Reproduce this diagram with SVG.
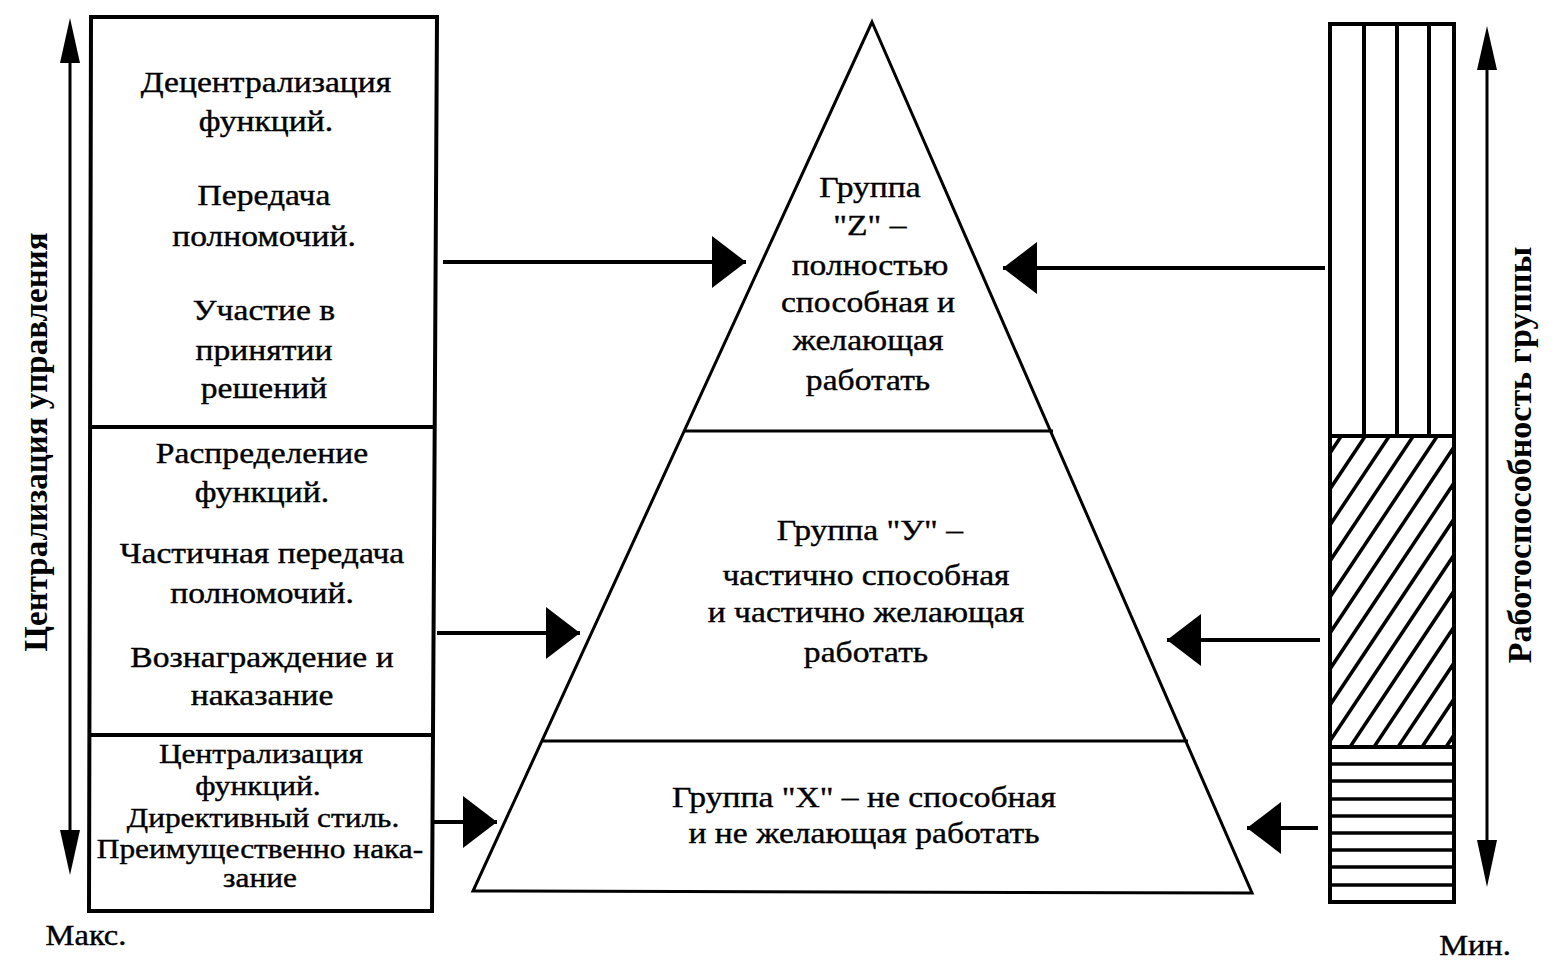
<svg xmlns="http://www.w3.org/2000/svg" width="1568" height="964" viewBox="0 0 1568 964">
<style>
.t{font-family:"Liberation Serif","Times New Roman",serif;font-size:30px;fill:#000;stroke:#000;stroke-width:0.4;text-anchor:middle;transform:scaleX(1.12);transform-box:fill-box;transform-origin:center}
.s{font-size:28px}
.b{font-weight:bold;font-family:"Liberation Serif","Times New Roman",serif;font-size:33px;fill:#000;text-anchor:middle}
.ln{stroke:#000;stroke-width:3;fill:none}
.th{stroke:#000;stroke-width:4;fill:none}
.h{stroke:#000;stroke-width:3.5}
</style>
<defs>
<marker id="ah" markerUnits="userSpaceOnUse" markerWidth="36" markerHeight="52" refX="34" refY="26" orient="auto"><path d="M0,0 L34,26 L0,52 Z" fill="#000"/></marker>
<clipPath id="mid"><rect x="1328" y="436" width="124" height="311"/></clipPath>
</defs>
<rect width="1568" height="964" fill="#fff"/>

<g id="left-axis">
<line x1="70" y1="30" x2="70" y2="865" class="ln"/>
<path d="M60,63 L70,18 L80,63 Z" fill="#000"/>
<path d="M60,830 L70,875 L80,830 Z" fill="#000"/>
<text class="b" transform="translate(47,442) rotate(-90)">Централизация управления</text>
<text class="t" x="86" y="945" style="font-size:29px">Макс.</text>
</g>

<g id="left-box">
<path d="M91,17 L437,17 L432,911 L89,911 Z" class="th"/>
<line x1="91" y1="427" x2="434" y2="427" class="th"/>
<line x1="90" y1="735" x2="433" y2="735" class="th"/>
</g>
<g id="box-top">
<text class="t" x="266" y="92">Децентрализация</text>
<text class="t" x="266" y="131">функций.</text>
<text class="t" x="264" y="205">Передача</text>
<text class="t" x="264" y="246">полномочий.</text>
<text class="t" x="264" y="320">Участие в</text>
<text class="t" x="264" y="360">принятии</text>
<text class="t" x="264" y="398">решений</text>
</g>
<g id="box-mid">
<text class="t" x="262" y="463">Распределение</text>
<text class="t" x="262" y="502">функций.</text>
<text class="t" x="262" y="563">Частичная передача</text>
<text class="t" x="262" y="603">полномочий.</text>
<text class="t" x="262" y="667">Вознаграждение и</text>
<text class="t" x="262" y="705">наказание</text>
</g>
<g id="box-bot">
<text class="t s" x="261" y="763">Централизация</text>
<text class="t s" x="258" y="795">функций.</text>
<text class="t s" x="263" y="827">Директивный стиль.</text>
<text class="t s" x="260" y="858">Преимущественно нака-</text>
<text class="t s" x="260" y="887">зание</text>
</g>

<g id="pyramid">
<path d="M872,22 L1252,893 L473,891 Z" class="ln"/>
<line x1="685" y1="431" x2="1053" y2="431" class="ln"/>
<line x1="543" y1="741" x2="1188" y2="741" class="ln"/>
</g>
<g id="group-z">
<text class="t" x="870" y="197">Группа</text>
<text class="t" x="870" y="235">"Z" –</text>
<text class="t" x="870" y="275">полностью</text>
<text class="t" x="868" y="312">способная и</text>
<text class="t" x="868" y="350">желающая</text>
<text class="t" x="868" y="390">работать</text>
</g>
<g id="group-y">
<text class="t" x="870" y="540">Группа "У" –</text>
<text class="t" x="866" y="585">частично способная</text>
<text class="t" x="866" y="622">и частично желающая</text>
<text class="t" x="866" y="662">работать</text>
</g>
<g id="group-x">
<text class="t" x="864" y="807">Группа "X" – не способная</text>
<text class="t" x="864" y="843">и не желающая работать</text>
</g>

<g id="right-bar">
<rect x="1330" y="24" width="124" height="878" class="th"/>
<line x1="1364" y1="24" x2="1364" y2="436" class="th"/>
<line x1="1397" y1="24" x2="1397" y2="436" class="th"/>
<line x1="1429" y1="24" x2="1429" y2="436" class="th"/>
<line x1="1330" y1="436" x2="1454" y2="436" class="th"/>
<line x1="1330" y1="747" x2="1454" y2="747" class="th"/>
<g clip-path="url(#mid)" class="h">
<line x1="1110" y1="747" x2="1318" y2="435"/>
<line x1="1134" y1="747" x2="1342" y2="435"/>
<line x1="1158" y1="747" x2="1366" y2="435"/>
<line x1="1182" y1="747" x2="1390" y2="435"/>
<line x1="1206" y1="747" x2="1414" y2="435"/>
<line x1="1230" y1="747" x2="1438" y2="435"/>
<line x1="1254" y1="747" x2="1462" y2="435"/>
<line x1="1278" y1="747" x2="1486" y2="435"/>
<line x1="1302" y1="747" x2="1510" y2="435"/>
<line x1="1326" y1="747" x2="1534" y2="435"/>
<line x1="1350" y1="747" x2="1558" y2="435"/>
<line x1="1374" y1="747" x2="1582" y2="435"/>
<line x1="1398" y1="747" x2="1606" y2="435"/>
<line x1="1422" y1="747" x2="1630" y2="435"/>
<line x1="1446" y1="747" x2="1654" y2="435"/>
</g>
<g class="h">
<line x1="1330" y1="764" x2="1454" y2="764"/>
<line x1="1330" y1="781" x2="1454" y2="781"/>
<line x1="1330" y1="799" x2="1454" y2="799"/>
<line x1="1330" y1="816" x2="1454" y2="816"/>
<line x1="1330" y1="833" x2="1454" y2="833"/>
<line x1="1330" y1="850" x2="1454" y2="850"/>
<line x1="1330" y1="867" x2="1454" y2="867"/>
<line x1="1330" y1="885" x2="1454" y2="885"/>
</g>
</g>

<g id="right-axis">
<line x1="1487" y1="60" x2="1487" y2="850" class="ln"/>
<path d="M1477,70 L1487,26 L1497,70 Z" fill="#000"/>
<path d="M1477,840 L1487,887 L1497,840 Z" fill="#000"/>
<text class="b" style="font-size:34px" transform="translate(1531,455) rotate(-90)">Работоспособность группы</text>
<text class="t" x="1475" y="955" style="font-size:29px">Мин.</text>
</g>

<g id="connectors">
<line x1="443" y1="262" x2="746" y2="262" class="th" marker-end="url(#ah)"/>
<line x1="437" y1="633" x2="580" y2="633" class="th" marker-end="url(#ah)"/>
<line x1="432" y1="822" x2="497" y2="822" class="th" marker-end="url(#ah)"/>
<line x1="1325" y1="268" x2="1003" y2="268" class="th" marker-end="url(#ah)"/>
<line x1="1320" y1="640" x2="1167" y2="640" class="th" marker-end="url(#ah)"/>
<line x1="1318" y1="828" x2="1247" y2="828" class="th" marker-end="url(#ah)"/>
</g>
</svg>
